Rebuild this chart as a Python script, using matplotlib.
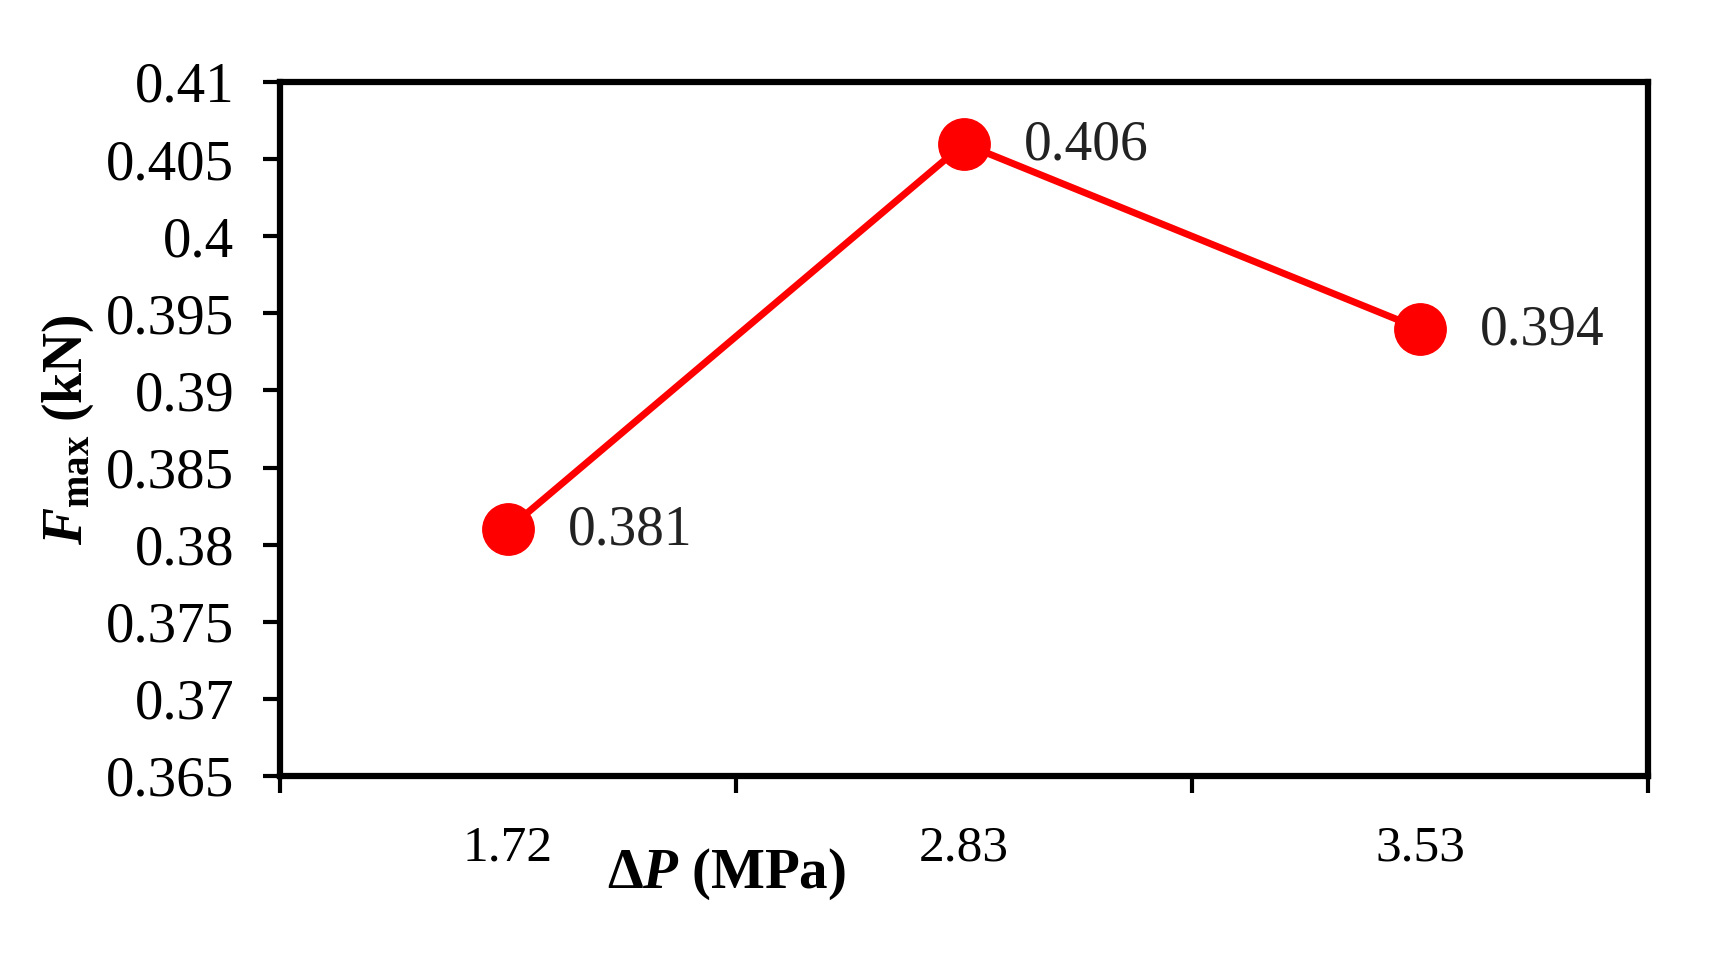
import matplotlib
matplotlib.use("Agg")
import matplotlib.pyplot as plt
import numpy as np

# --------------------------
# Data
# --------------------------
categories = ["1.72", "2.83", "3.53"]
fmax = [0.381, 0.406, 0.394]
value_labels = ["0.381", "0.406", "0.394"]
y_ticks = [0.365, 0.37, 0.375, 0.38, 0.385, 0.39, 0.395, 0.4, 0.405, 0.41]
y_tick_labels = ["0.365", "0.37", "0.375", "0.38", "0.385", "0.39", "0.395", "0.4", "0.405", "0.41"]

# --------------------------
# Fonts (Times-like)
# --------------------------
plt.rcParams["font.family"] = ["Liberation Serif", "DejaVu Serif"]
plt.rcParams["mathtext.fontset"] = "custom"
plt.rcParams["mathtext.rm"] = "Liberation Serif"
plt.rcParams["mathtext.it"] = "Liberation Serif:italic"
plt.rcParams["mathtext.bf"] = "Liberation Serif:bold"
plt.rcParams["mathtext.bfit"] = "Liberation Serif:bold:italic"

fig = plt.figure(figsize=(17.1, 9.6), dpi=100)
ax = fig.add_axes([280 / 1710, 1 - 776 / 960, 1368 / 1710, 694 / 960])

x = np.arange(len(categories))
ax.plot(x, fmax, color="#ff0000", linewidth=5, marker="o",
        markersize=37, markerfacecolor="#ff0000", markeredgecolor="#ff0000",
        clip_on=False, zorder=3)

# data labels to the right of each point
for xi, yi, lab in zip(x, fmax, value_labels):
    ax.annotate(lab, (xi, yi), xytext=(43, -1), textcoords="offset points",
                ha="left", va="center", fontsize=40, color="#222222")

# --------------------------
# Axes styling (Excel look)
# --------------------------
ax.set_xlim(-0.5, len(categories) - 0.5)
ax.set_ylim(0.365, 0.41)
ax.set_yticks(y_ticks)
ax.set_yticklabels(y_tick_labels, fontsize=41)
ax.set_xticks(x)
ax.set_xticklabels(categories, fontsize=37)
ax.set_xticks(np.arange(-0.5, len(categories), 1.0), minor=True)

ax.tick_params(axis="y", direction="out", length=12, width=3, pad=21)
ax.tick_params(axis="x", which="major", length=0, pad=35)
ax.tick_params(axis="x", which="minor", direction="out", length=12, width=3)

for s in ax.spines.values():
    s.set_linewidth(4.5)
    s.set_color("black")

# axis titles
fig.text(726 / 1710, 1 - 874 / 960, r"$\mathbf{\Delta}\mathbfit{P}\ \mathbf{(MPa)}$",
         ha="center", va="center", fontsize=41)
fig.text(68 / 1710, 1 - 430 / 960, r"$\mathbfit{F}_{\mathbf{max}}\ \mathbf{(kN)}$",
         ha="center", va="center", fontsize=40, rotation=90)

fig.savefig("out.png", dpi=100, facecolor="white")
